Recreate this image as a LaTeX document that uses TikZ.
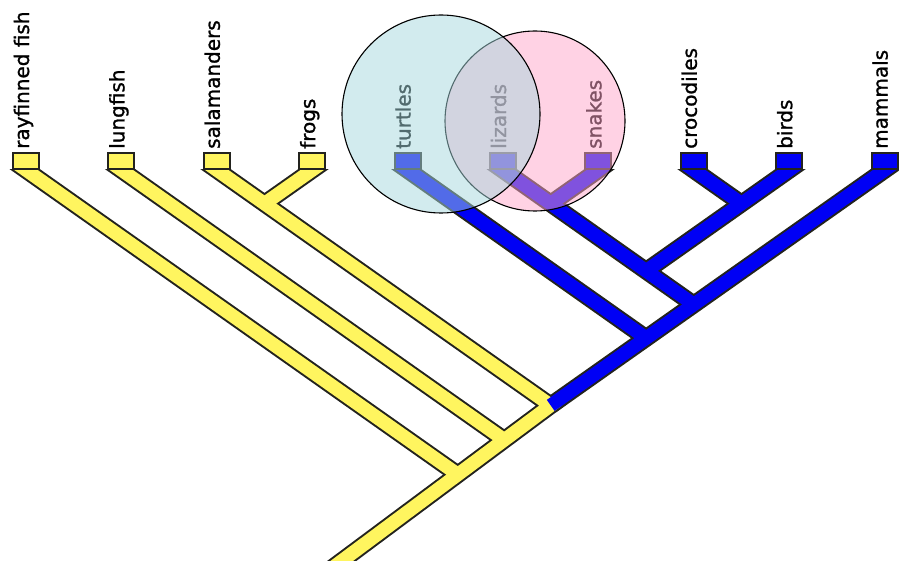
\documentclass[tikz,border=0pt]{standalone}
\usepackage{fontspec}
\usetikzlibrary{calc}
\newfontfamily\tipfont{DejaVu Sans}[FakeBold=1.2]

\definecolor{amphyellow}{RGB}{255,245,95}
\definecolor{amniblue}{RGB}{0,0,245}
\definecolor{rimgray}{RGB}{35,35,30}
\definecolor{turtlecyan}{RGB}{165,215,221}
\definecolor{squamapink}{RGB}{255,165,201}

\tikzset{
  rim/.style={draw=rimgray, line width=17.5pt},
  yellowfill/.style={draw=amphyellow, line width=13.5pt},
  bluefill/.style={draw=amniblue, line width=13.5pt},
  tipend/.style={shorten <=-18pt},
  tipbox/.style={rectangle, draw=rimgray, line width=2pt, minimum width=26pt,
    minimum height=16pt, inner sep=0pt, anchor=south},
  tiplabel/.style={rotate=90, anchor=base west, inner sep=0pt,
    font=\tipfont\fontsize{20}{24}\selectfont},
  ring/.style={circle, draw=black, line width=1.1pt, fill opacity=0.5, inner sep=0pt}
}

\begin{document}
\begin{tikzpicture}[x=1pt, y=-1pt]
  \useasboundingbox (0,0) rectangle (899,561);

  % tips sit on the bottom edge of their boxes
  \coordinate (fish) at (26,170);
  \coordinate (lungfish) at (121.4,170);
  \coordinate (salamanders) at (216.8,170);
  \coordinate (frogs) at (312.2,170);
  \coordinate (turtles) at (407.6,170);
  \coordinate (lizards) at (503,170);
  \coordinate (snakes) at (598.4,170);
  \coordinate (crocodiles) at (693.8,170);
  \coordinate (birds) at (789.2,170);
  \coordinate (mammals) at (884.6,170);

  % forks
  \coordinate (amph) at (264.5,203.6);
  \coordinate (lepi) at (550.7,203.6);
  \coordinate (arch) at (741.5,203.6);
  \coordinate (diap) at (646.1,270.9);
  \coordinate (dm) at (693.8,304.5);
  \coordinate (amni) at (646.1,338.1);
  \coordinate (tetr) at (550.7,405.4);
  \coordinate (sarc) at (503,439.0);
  \coordinate (root) at (455.3,472.7);
  \coordinate (base) at (300,592);

  \begin{scope}
    \clip (0,170) rectangle (899,561);
    % dark rims first, so the joins merge once the fills go on top
    \foreach \t/\f in {fish/root, lungfish/sarc, frogs/amph, turtles/amni, lizards/dm,
                       snakes/lepi, birds/diap, crocodiles/arch, mammals/tetr}
      \draw[rim, tipend] (\t) -- (\f);
    \draw[rim, tipend] (salamanders) -- (tetr) -- (base);

    % yellow part
    \foreach \t/\f in {fish/root, lungfish/sarc, frogs/amph}
      \draw[yellowfill, tipend] (\t) -- (\f);
    \draw[yellowfill, tipend] (salamanders) -- (tetr) -- (base);

    % blue part
    \foreach \t/\f in {turtles/amni, lizards/dm, snakes/lepi, birds/diap,
                       crocodiles/arch, mammals/tetr}
      \draw[bluefill, tipend] (\t) -- (\f);
  \end{scope}

  % boxes and names
  \foreach \t/\c/\txt in {fish/amphyellow/rayfinned fish, lungfish/amphyellow/lungfish,
      salamanders/amphyellow/salamanders, frogs/amphyellow/frogs,
      turtles/amniblue/turtles, lizards/amniblue/lizards, snakes/amniblue/snakes,
      crocodiles/amniblue/crocodiles, birds/amniblue/birds, mammals/amniblue/mammals}{
    \node[tipbox, fill=\c] (\t box) at (\t) {};
    \node[tiplabel] (\t label) at ($(\t box.north)+(3,-3)$) {\txt};
  }

  % the two groupings, laid over the tips
  \node[ring, fill=squamapink, minimum size=180pt] (squamates) at (535,121) {};
  \node[ring, fill=turtlecyan, minimum size=198pt] (shelled) at (441,114) {};
\end{tikzpicture}
\end{document}
